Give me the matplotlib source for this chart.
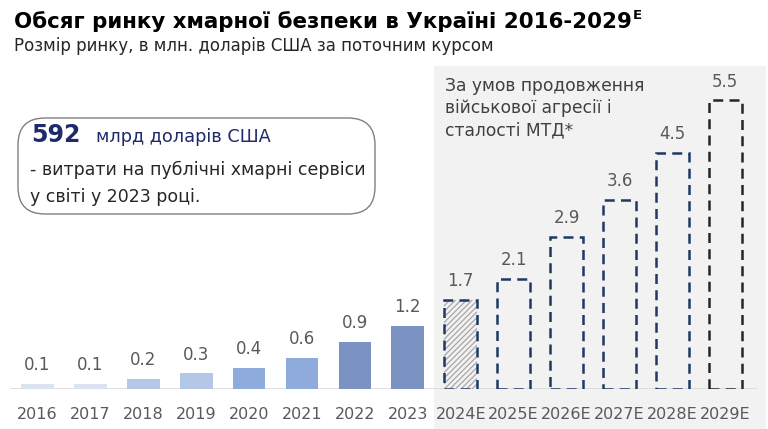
import matplotlib
matplotlib.use("Agg")
import matplotlib.pyplot as plt
from matplotlib.patches import FancyBboxPatch, Rectangle

years = ["2016", "2017", "2018", "2019", "2020", "2021", "2022", "2023",
         "2024E", "2025E", "2026E", "2027E", "2028E", "2029E"]
values = [0.1, 0.1, 0.2, 0.3, 0.4, 0.6, 0.9, 1.2, 1.7, 2.1, 2.9, 3.6, 4.5, 5.5]
labels = ["0.1", "0.1", "0.2", "0.3", "0.4", "0.6", "0.9", "1.2",
          "1.7", "2.1", "2.9", "3.6", "4.5", "5.5"]
hist_colors = ["#dce3f0", "#dce3f0", "#b4c7e7", "#b4c7e7",
               "#8faadc", "#8faadc", "#7a93c2", "#7a93c2"]
forecast_edges = ["#1f3864", "#1f3864", "#1f3864", "#1f3864", "#1f3864", "#262626"]

FONT = ["DejaVu Sans"]
plt.rcParams["font.family"] = FONT

W, H = 768, 429
fig = plt.figure(figsize=(W / 100, H / 100), dpi=100)

def fx(px):
    return px / W

def fy(py):
    return 1 - py / H

# grey forecast background
bg = Rectangle((fx(434), 0), fx(766) - fx(434), fy(66),
               transform=fig.transFigure, facecolor="#f2f2f2",
               edgecolor="none", zorder=-10)
fig.patches.append(bg)

# axes geometry
x0, dx = 37.5, 52.9
ax_left, ax_right = 10, 757
ax_bottom_px, ax_top_px = 389, 60
ppu = 52.5
ax = fig.add_axes([fx(ax_left), 1 - ax_bottom_px / H,
                   (ax_right - ax_left) / W, (ax_bottom_px - ax_top_px) / H])
ax.set_zorder(1)
ax.set_facecolor("none")
ax.set_xlim((ax_left - x0) / dx, (ax_right - x0) / dx)
ax.set_ylim(0, (ax_bottom_px - ax_top_px) / ppu)
for s in ax.spines.values():
    s.set_visible(False)
ax.set_yticks([])
ax.axhline(0, color="#d9d9d9", lw=1.2, zorder=1)

xs = list(range(len(years)))
bw = 0.62
n_hist = len(hist_colors)

ax.bar(xs[:n_hist], values[:n_hist], width=bw, color=hist_colors, zorder=2)

plt.rcParams["hatch.linewidth"] = 0.9
# hatched 2024E fill
ax.bar(xs[n_hist], values[n_hist], width=bw, facecolor="#f2f2f2",
       edgecolor="#a6a6a6", hatch="//////", lw=0, zorder=2)
# dashed outlines
for i, ec in zip(xs[n_hist:], forecast_edges):
    ax.bar(i, values[i], width=bw, facecolor="none", edgecolor=ec,
           linestyle=(0, (4.0, 2.5)), lw=1.8, zorder=3)

for i, (v, t) in enumerate(zip(values, labels)):
    ax.annotate(t, (i, v), xytext=(0, 7), textcoords="offset points",
                ha="center", va="bottom", fontsize=12, color="#595959")

ax.set_xticks(xs)
ax.set_xticklabels(years, fontsize=11.5, color="#595959")
ax.tick_params(axis="x", length=0, pad=13)

# title
title = fig.text(fx(14), fy(28), "Обсяг ринку хмарної безпеки в Україні 2016-2029",
                 fontsize=15.4, fontweight="bold", color="#000000", va="baseline")
fig.canvas.draw()
bb = title.get_window_extent()
fig.text(bb.x1 / W + 0.001, fy(19), "E", fontsize=9.5, fontweight="bold",
         color="#000000", va="baseline")

fig.text(fx(14), fy(46), "Розмір ринку, в млн. доларів США за поточним курсом",
         fontsize=12, color="#262626", va="center")

# callout box
box = FancyBboxPatch((fx(18), fy(214)), fx(375) - fx(18), fy(118) - fy(214),
                     boxstyle="round,pad=0,rounding_size=0.035",
                     transform=fig.transFigure, facecolor="white",
                     edgecolor="#808080", lw=1.0, mutation_aspect=W / H,
                     zorder=2)
fig.patches.append(box)
t592 = fig.text(fx(31), fy(142), "592", fontsize=17, fontweight="bold",
                color="#1f2a6b", va="baseline")
fig.canvas.draw()
bb = t592.get_window_extent()
fig.text(bb.x1 / W + fx(16), fy(142), "млрд доларів США", fontsize=12.8,
         color="#1f2a6b", va="baseline")
fig.text(fx(30), fy(170), "- витрати на публічні хмарні сервіси", fontsize=12.5,
         color="#262626", va="center")
fig.text(fx(30), fy(197), "у світі у 2023 році.", fontsize=12.5,
         color="#262626", va="center")

fig.text(fx(445), fy(77), "За умов продовження\nвійськової агресії і\nсталості МТД*",
         fontsize=12.3, color="#404040", va="top", linespacing=1.3)

fig.savefig("out.png", dpi=100)
